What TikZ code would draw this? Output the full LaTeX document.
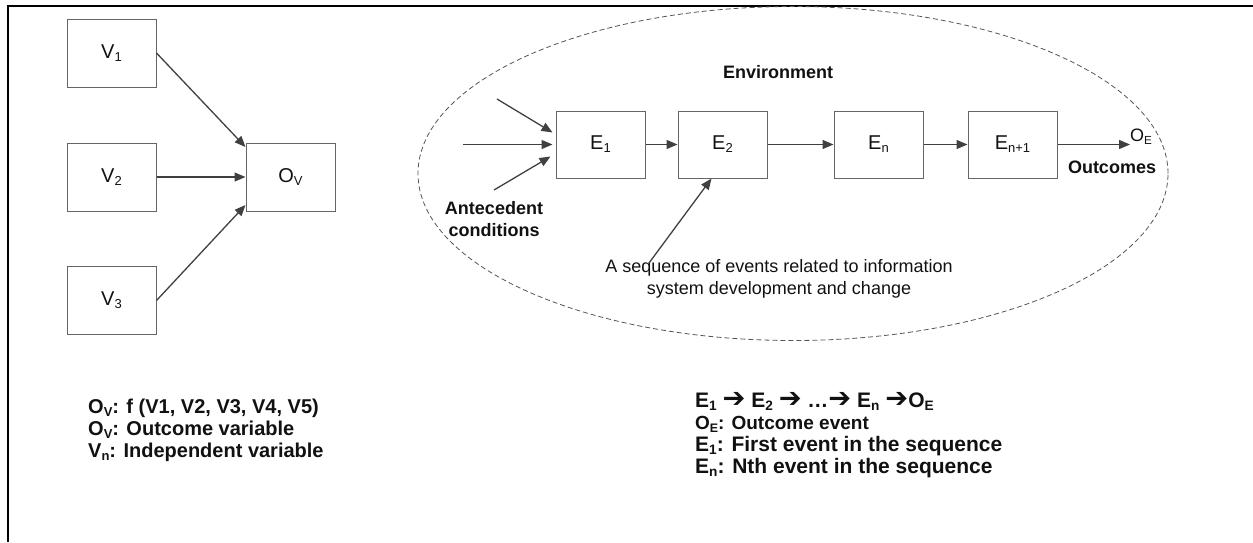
\documentclass[tikz,border=0pt]{standalone}
\usepackage{fontspec}
\setmainfont{Liberation Sans}
\newfontfamily\arrowfont{DejaVu Sans}
\usetikzlibrary{arrows.meta,shapes.geometric}
\definecolor{boxgray}{HTML}{666666}
\definecolor{linegray}{HTML}{404040}
\definecolor{ellgray}{HTML}{555555}
\definecolor{txt}{HTML}{111111}
\newcommand\mysb[1]{\raisebox{-0.3ex}{\scalebox{0.65}{#1}}}
\newcommand\rarr{\raisebox{-0.05ex}{\scalebox{1.3}{\arrowfont\bfseries ➔}}}
\begin{document}
\begin{tikzpicture}[x=1pt,y=-1pt,
  box/.style={draw=boxgray, line width=1pt, minimum width=89pt, minimum height=68pt,
    inner sep=0pt, text=txt, font=\fontsize{20}{24}\selectfont},
  conn/.style={draw=linegray, line width=1.3pt, -{Triangle[length=11pt,width=9pt]}},
  bold18/.style={font=\fontsize{18}{22}\selectfont\bfseries, align=center, inner sep=0pt, text=txt},
  plain18/.style={font=\fontsize{18}{22}\selectfont, align=center, inner sep=0pt, text=txt},
  leftnote/.style={anchor=base west, inner sep=0pt, text=txt, font=\fontsize{20}{22}\selectfont\bfseries},
  rightnote/.style={anchor=base west, inner sep=0pt, text=txt, font=\fontsize{21}{24}\selectfont\bfseries},
  rightsmall/.style={anchor=base west, inner sep=0pt, text=txt, font=\fontsize{19}{22}\selectfont\bfseries},
  frame/.style={line width=2.5pt, draw=black}]
\useasboundingbox (0,0) rectangle (1253,542);
% frame
\draw[frame] (7,6) -- (1253,6);
\draw[frame] (8,4.75) -- (8,542);

% variance model
\node[box] (V1) at (111.5,53) {V\mysb{1}};
\node[box] (V2) at (111.5,177) {V\mysb{2}};
\node[box] (V3) at (111.5,300.5) {V\mysb{3}};
\node[box] (Ov) at (290.5,177) {O\mysb{V}};
\draw[conn] (V1.east) -- ([yshift=30pt]Ov.west);
\draw[conn] (V2.east) -- (Ov.west);
\draw[conn] (V3.east) -- ([yshift=-28pt]Ov.west);

% environment ellipse
\node[ellipse, draw=ellgray, dashed, dash pattern=on 5pt off 3pt, line width=0.8pt,
  minimum width=750pt, minimum height=334pt, inner sep=0pt] (env) at (793,173.5) {};
\node[bold18] (envlbl) at (778,72) {Environment};

% process model
\node[box, minimum height=67pt] (E1) at (600.5,144.5) {E\mysb{1}};
\node[box, minimum height=67pt] (E2) at (722.5,144.5) {E\mysb{2}};
\node[box, minimum height=67pt] (En) at (878.5,144.5) {E\mysb{n}};
\node[box, minimum height=67pt] (En1) at (1012.5,144.5) {E\mysb{n+1}};
\node[plain18, anchor=west] (OE) at (1130,137) {O\mysb{E}};
\node[bold18] (outc) at (1112,167) {Outcomes};
\draw[conn] (E1.east) -- (E2.west);
\draw[conn] (E2.east) -- (En.west);
\draw[conn] (En.east) -- (En1.west);
\draw[conn] (En1.east) -- (En1.east -| OE.west);

% antecedent conditions
\coordinate (a1) at (497,99);
\coordinate (a2) at (463,144.5);
\coordinate (a3) at (494,190);
\draw[conn] (a1) -- ([xshift=-3pt,yshift=12pt]E1.west);
\draw[conn] (a2) -- ([xshift=-3pt]E1.west);
\draw[conn] (a3) -- ([xshift=-5pt,yshift=-12pt]E1.west);
\node[bold18] (ante) at (494,219) {Antecedent\\conditions};

% sequence description
\node[plain18] (seq) at (779,279) {A sequence of events related to information\\system development and change};
\coordinate (seqstart) at (649,263);
\draw[conn] (seqstart) -- ([xshift=-11pt]E2.south);

% notes, left
\node[leftnote] (l1) at (88,413) {O\mysb{V}: f (V1, V2, V3, V4, V5)};
\node[leftnote] (l2) at (88,435) {O\mysb{V}: Outcome variable};
\node[leftnote] (l3) at (88,457) {V\mysb{n}: Independent variable};

% notes, right
\node[rightnote] (r1) at (695,407) {E\mysb{1} \rarr{} E\mysb{2} \rarr{} …\rarr{} E\mysb{n} \rarr{}O\mysb{E}};
\node[rightsmall] (r2) at (695,429) {O\mysb{E}: Outcome event};
\node[rightnote] (r3) at (695,451) {E\mysb{1}: First event in the sequence};
\node[rightnote] (r4) at (695,473) {E\mysb{n}: Nth event in the sequence};
\end{tikzpicture}
\end{document}
